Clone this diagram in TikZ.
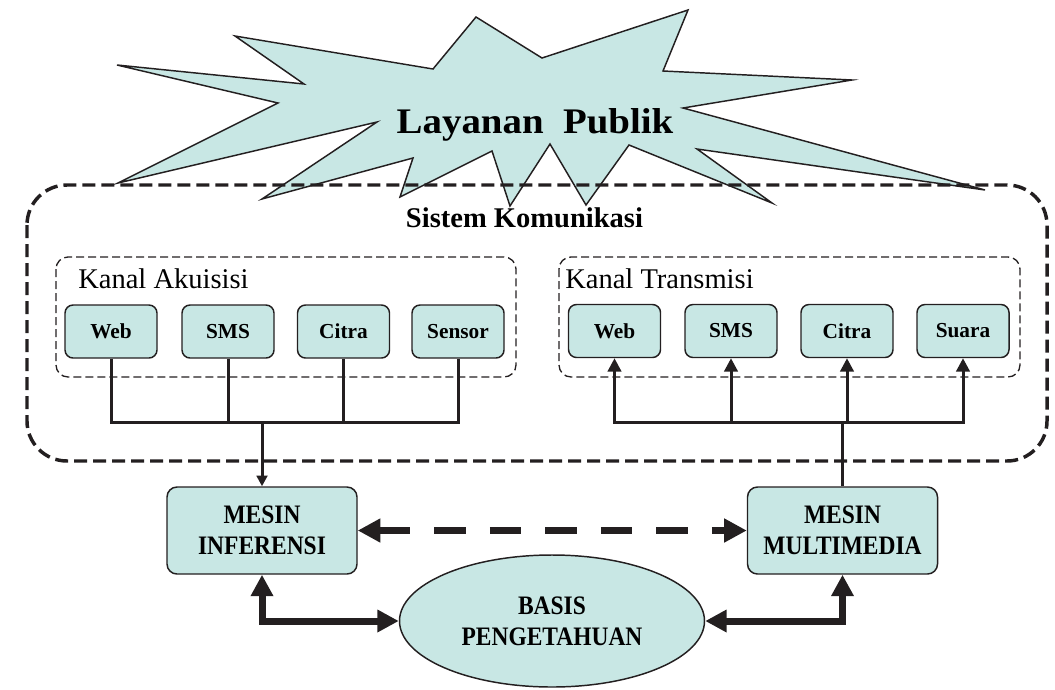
\documentclass[tikz,border=0pt]{standalone}
\usepackage{fontspec}
\setmainfont{Liberation Serif}
\newfontfamily\titlefont[FakeStretch=1.08]{Liberation Serif}
\newfontfamily\capsfont[FakeStretch=0.88]{Liberation Serif}
\usetikzlibrary{arrows.meta,shapes.geometric}
\definecolor{panel}{RGB}{200,231,228}
\definecolor{ink}{RGB}{35,31,32}

\tikzset{
  smallbox/.style={draw=ink, fill=panel, rounded corners=6pt, line width=1.1pt,
    minimum width=69pt, minimum height=39.75pt, inner sep=0pt,
    font=\fontsize{16}{19}\selectfont\bfseries},
  bigbox/.style={draw=ink, fill=panel, rounded corners=7.5pt, line width=1.1pt,
    minimum width=142.5pt, minimum height=65.25pt, inner sep=0pt, align=center,
    font=\fontsize{20}{23.25}\selectfont\capsfont\bfseries},
  knowledge/.style={ellipse, draw=ink, fill=panel, line width=1.1pt,
    minimum width=228.75pt, minimum height=99pt, inner sep=0pt, align=center,
    font=\fontsize{20}{23.25}\selectfont\capsfont\bfseries},
  groupframe/.style={draw=ink, line width=1pt, dash pattern=on 6pt off 3pt, rounded corners=9pt},
  outerframe/.style={draw=ink, line width=2.6pt, dash pattern=on 9.75pt off 4.5pt, rounded corners=30pt},
  grouplabel/.style={anchor=base west, inner sep=0pt, font=\fontsize{21.4}{24}\selectfont},
  wire/.style={draw=ink, line width=2.25pt},
  uptip/.style={-{Triangle[length=10pt,width=10pt]}},
  downtip/.style={-{Triangle[length=8pt,width=8pt]}},
  fat/.style={draw=ink, line width=5.25pt, line join=miter,
    {Triangle[length=16pt,width=16pt]}-{Triangle[length=16pt,width=16pt]}},
  fatdash/.style={draw=ink, line width=5.25pt, dash pattern=on 23.6pt off 18pt,
    {Triangle[length=17pt,width=17pt]}-{Triangle[length=17pt,width=17pt]}},
}

\begin{document}
\begin{tikzpicture}[x=0.75pt,y=-0.75pt]
\useasboundingbox (0,0) rectangle (1055,689);

% starburst behind the title
\filldraw[fill=panel, draw=ink, line width=1.1pt, line join=miter]
  (117,65) -- (304,84) -- (235,36) -- (433,69) -- (476,17) -- (542,58)
  -- (688,10) -- (663,71) -- (852,80) -- (683,108) -- (985,190) -- (697,149)
  -- (772,203) -- (629,145) -- (586,205) -- (550,144) -- (510,206) -- (492,151)
  -- (400,197) -- (413,158) -- (262,199) -- (377,122) -- (118,183) -- (278,103)
  -- cycle;
\node[anchor=base, inner sep=0pt, font=\fontsize{27}{30}\selectfont\titlefont\bfseries]
  (title) at (535,133) {Layanan~ Publik};

% communication system frame
\draw[outerframe] (27,185) rectangle (1047,461);
\node[anchor=base, inner sep=0pt, font=\fontsize{21.4}{24}\selectfont\bfseries]
  (syslabel) at (524.5,227) {Sistem Komunikasi};

% channel groups
\draw[groupframe] (56,257) rectangle (516,377);
\draw[groupframe] (559,257) rectangle (1020,377);
\node[grouplabel] (acqlabel) at (78,288) {Kanal Akuisisi};
\node[grouplabel] (txlabel) at (565,288) {Kanal Transmisi};

% acquisition channels
\node[smallbox] (aweb) at (111,331.5) {Web};
\node[smallbox] (asms) at (228,331.5) {SMS};
\node[smallbox] (acit) at (343.5,331.5) {Citra};
\node[smallbox] (asen) at (458,331.5) {Sensor};

% transmission channels
\node[smallbox] (tweb) at (614.5,331) {Web};
\node[smallbox] (tsms) at (731,331) {SMS};
\node[smallbox] (tcit) at (847,331) {Citra};
\node[smallbox] (tsua) at (963,331) {Suara};

% engines and knowledge base
\node[bigbox] (inf) at (262,530.5) {MESIN\\INFERENSI};
\node[bigbox] (mm) at (842.5,530.5) {MESIN\\MULTIMEDIA};
\node[knowledge] (kb) at (552,621) {BASIS\\PENGETAHUAN};

% acquisition bus
\coordinate (ahub) at (262,422);
\draw[wire] (aweb.south) |- (ahub);
\draw[wire] (asms.south) |- (ahub);
\draw[wire] (acit.south) |- (ahub);
\draw[wire] (asen.south) |- (ahub);
\draw[wire, downtip] (ahub) -- (inf.north);

% transmission bus
\coordinate (thub) at (842.5,422);
\draw[wire] (mm.north) -- (thub);
\draw[wire, uptip] (thub) -| (tweb.south);
\draw[wire, uptip] (thub) -| (tsms.south);
\draw[wire, uptip] (thub) -| (tcit.south);
\draw[wire, uptip] (thub) -| (tsua.south);

% engine links
\draw[fatdash] (inf.east) -- (mm.west);
\draw[fat] (inf.south) |- (kb.west);
\draw[fat] (mm.south) |- (kb.east);
\end{tikzpicture}
\end{document}
